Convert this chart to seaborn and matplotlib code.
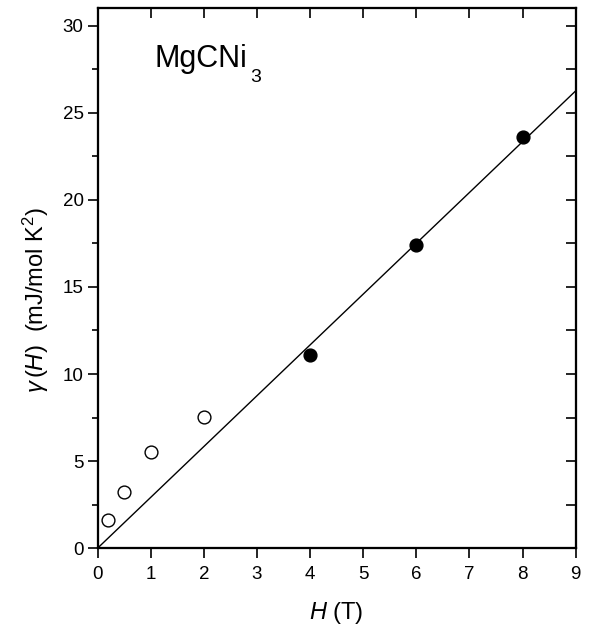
import numpy as np
import pandas as pd
import seaborn as sns
import matplotlib
matplotlib.use("Agg")
import matplotlib.pyplot as plt
from matplotlib.ticker import MultipleLocator

# data
h_open = [0.2, 0.5, 1.0, 2.0]
gamma_open = [1.6, 3.25, 5.5, 7.55]
h_filled = [4.0, 6.0, 8.0]
gamma_filled = [11.1, 17.4, 23.6]
fit_h = [0.0, 9.0]
fit_gamma = [0.0, 26.25]

sns.set_theme(style="ticks")
plt.rcParams['font.family'] = ['Liberation Sans', 'DejaVu Sans']
plt.rcParams['mathtext.fontset'] = 'custom'
plt.rcParams['mathtext.rm'] = 'Liberation Sans'
plt.rcParams['mathtext.it'] = 'Liberation Sans:italic'
plt.rcParams['text.color'] = 'black'
plt.rcParams['axes.labelcolor'] = 'black'

fig = plt.figure(figsize=(5.91, 6.28), dpi=100)
ax = fig.add_axes([0.165, 0.127, 0.809, 0.860])

fit = pd.DataFrame({'H': fit_h, 'gamma': fit_gamma})
sns.lineplot(data=fit, x='H', y='gamma', color='black', linewidth=1.0, ax=ax)

op = pd.DataFrame({'H': h_open, 'gamma': gamma_open})
sns.scatterplot(data=op, x='H', y='gamma', marker='o', s=85, facecolor='white',
                edgecolor='black', linewidth=1.0, ax=ax, zorder=3)
fl = pd.DataFrame({'H': h_filled, 'gamma': gamma_filled})
sns.scatterplot(data=fl, x='H', y='gamma', marker='o', s=85, color='black',
                edgecolor='black', linewidth=1.0, ax=ax, zorder=3)

ax.set_xlim(0, 9)
ax.set_ylim(0, 31)
ax.xaxis.set_major_locator(MultipleLocator(1))
ax.yaxis.set_major_locator(MultipleLocator(5))
ax.yaxis.set_minor_locator(MultipleLocator(2.5))
ax.tick_params(axis='both', which='major', direction='out', length=7, width=1.2,
               labelsize=13.5, color='black', labelcolor='black')
ax.tick_params(axis='x', pad=6)
ax.tick_params(axis='y', pad=3)
ax.tick_params(axis='y', which='minor', direction='out', length=4, width=1.2,
               color='black')
for s in ax.spines.values():
    s.set_linewidth(1.5)
    s.set_color('black')

# inward ticks on top and right
axr = ax.twinx()
axr.set_ylim(0, 31)
axr.yaxis.set_major_locator(MultipleLocator(2.5))
axr.tick_params(axis='y', direction='in', length=7, width=1.2, labelright=False,
                color='black')
axt = ax.twiny()
axt.set_xlim(0, 9)
axt.xaxis.set_major_locator(MultipleLocator(1))
axt.tick_params(axis='x', direction='in', length=7, width=1.2, labeltop=False,
                color='black')
for a in (axr, axt):
    for s in a.spines.values():
        s.set_linewidth(1.5)
        s.set_color('black')

ax.set_xlabel(r'$H$ (T)', fontsize=17, labelpad=12)
ax.set_ylabel(r'$\gamma\,(H)$  (mJ/mol K$^2$)', fontsize=17)
ax.yaxis.set_label_coords(-0.097, 0.46)
ax.text(1.08, 27.6, 'MgCNi', fontsize=22, ha='left', va='baseline')
ax.text(2.88, 26.75, '3', fontsize=14, ha='left', va='baseline')

fig.savefig('out.png', dpi=100)
